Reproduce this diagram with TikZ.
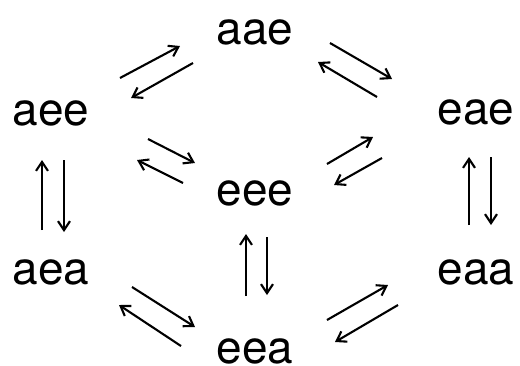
\documentclass[tikz,border=0pt]{standalone}
\usepackage{fontspec}
\setmainfont{TeX Gyre Heros}
\usetikzlibrary{arrows.meta,calc}
\tikzset{
  state/.style={inner sep=0pt,font=\fontsize{46}{50}\selectfont},
  arr/.style={line width=2.1pt,-{Straight Barb[length=9pt,width=12pt,line width=2.1pt]}}
}
\begin{document}
\begin{tikzpicture}[x=1pt,y=-1pt]
\useasboundingbox (0,0) rectangle (520,365);
\node[state] (aae) at (255,32) {aae};
\node[state] (aee) at (51,113) {aee};
\node[state] (eae) at (476,112) {eae};
\node[state] (eee) at (255,193) {eee};
\node[state] (aea) at (51,272) {aea};
\node[state] (eaa) at (476,272) {eaa};
\node[state] (eea) at (255,351) {eea};
% aee <-> aae
\draw[arr] ($(aee)+(69,-35)$) -- ($(aae)+(-75,14)$);
\draw[arr] ($(aae)+(-62,31)$) -- ($(aee)+(80,-15)$);
% aae <-> eae
\draw[arr] ($(aae)+(75,11)$) -- ($(eae)+(-84,-33)$);
\draw[arr] ($(eae)+(-99,-15)$) -- ($(aae)+(63,30)$);
% aee <-> eee
\draw[arr] ($(aee)+(97,26)$) -- ($(eee)+(-60,-30)$);
\draw[arr] ($(eee)+(-72,-10)$) -- ($(aee)+(86,47)$);
% eee <-> eae
\draw[arr] ($(eee)+(72,-29)$) -- ($(eae)+(-103,25)$);
\draw[arr] ($(eae)+(-94,46)$) -- ($(eee)+(79,-8)$);
% aee <-> aea
\draw[arr] ($(aea)+(-9,-42)$) -- ($(aee)+(-9,47)$);
\draw[arr] ($(aee)+(13,47)$) -- ($(aea)+(13,-40)$);
% eae <-> eaa
\draw[arr] ($(eaa)+(-7,-47)$) -- ($(eae)+(-7,45)$);
\draw[arr] ($(eae)+(15,45)$) -- ($(eaa)+(15,-47)$);
% eee <-> eea
\draw[arr] ($(eea)+(-9,-55)$) -- ($(eee)+(-9,41)$);
\draw[arr] ($(eee)+(12,44)$) -- ($(eea)+(12,-56)$);
% aea <-> eea
\draw[arr] ($(aea)+(81,15)$) -- ($(eea)+(-60,-24)$);
\draw[arr] ($(eea)+(-74,-5)$) -- ($(aea)+(68,33)$);
% eea <-> eaa
\draw[arr] ($(eea)+(72,-31)$) -- ($(eaa)+(-88,13)$);
\draw[arr] ($(eaa)+(-78,33)$) -- ($(eea)+(80,-9)$);
\end{tikzpicture}
\end{document}
